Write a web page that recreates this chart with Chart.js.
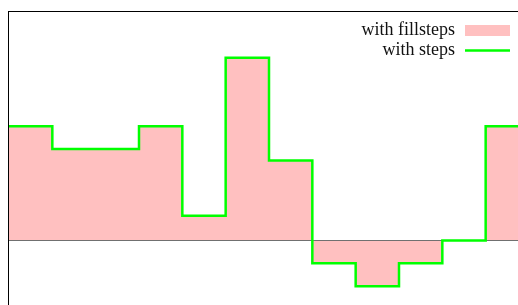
<!DOCTYPE html>
<html>
<head>
<meta charset="utf-8">
<script src="https://cdn.jsdelivr.net/npm/chart.js@4.4.1/dist/chart.umd.min.js"></script>
<style>
  html, body { margin: 0; padding: 0; background: #fff; overflow: hidden; }
  #wrap { width: 540px; height: 320px; }
</style>
</head>
<body>
<div id="wrap"><canvas id="stepChart" width="540" height="320"></canvas></div>
<script>
// data (each value holds until the next x)
const xValues = [0, 1, 2, 3, 4, 5, 6, 7, 8, 9, 10, 11, 12];
const yValues = [5, 4, 4, 5, 1.08, 8, 3.5, -1, -2, -1, 0, 5, 5];
const seriesLabels = ['with fillsteps', 'with steps'];

const pts = xValues.map((x, i) => ({ x: x, y: yValues[i] }));

const fillColor = '#ffc0c0';
const lineColor = '#00ff00';

// frame, zero line and a gnuplot-like key
const framePlugin = {
    id: 'frame',
    afterDatasetDraw(chart, args) {
        if (args.index !== 0) return;
        const { ctx, chartArea, scales } = chart;
        const y0 = Math.round(scales.y.getPixelForValue(0)) + 0.5;
        ctx.save();
        ctx.strokeStyle = '#707070';
        ctx.lineWidth = 1;
        ctx.beginPath();
        ctx.moveTo(chartArea.left, y0);
        ctx.lineTo(chartArea.right, y0);
        ctx.stroke();
        ctx.restore();
    },
    afterDraw(chart) {
        const { ctx, chartArea } = chart;
        ctx.save();
        ctx.strokeStyle = '#000';
        ctx.lineWidth = 1;
        ctx.strokeRect(Math.round(chartArea.left) - 0.5, Math.round(chartArea.top) - 0.5,
            chartArea.right - chartArea.left, chartArea.bottom - chartArea.top);

        // key
        ctx.font = '18px "Liberation Serif", "DejaVu Serif", serif';
        ctx.fillStyle = '#111';
        ctx.textAlign = 'right';
        ctx.textBaseline = 'middle';
        const textX = 455, rowY = [30, 50.5];
        ctx.fillText(chart.data.datasets[0].label, textX, rowY[0]);
        ctx.fillText(chart.data.datasets[1].label, textX, rowY[1]);
        ctx.fillStyle = fillColor;
        ctx.fillRect(465, rowY[0] - 5, 45, 11);
        ctx.strokeStyle = lineColor;
        ctx.lineWidth = 2.5;
        ctx.beginPath();
        ctx.moveTo(465, rowY[1]);
        ctx.lineTo(510, rowY[1]);
        ctx.stroke();
        ctx.restore();
    }
};

const ctx = document.getElementById('stepChart').getContext('2d');
const stepChart = new Chart(ctx, {
    type: 'line',
    data: {
        datasets: [{
            label: seriesLabels[0],
            data: pts,
            stepped: true,
            fill: 'origin',
            backgroundColor: fillColor,
            borderWidth: 0,
            borderColor: 'rgba(0,0,0,0)',
            pointRadius: 0,
            order: 2
        }, {
            label: seriesLabels[1],
            data: pts,
            stepped: true,
            fill: false,
            borderColor: lineColor,
            borderWidth: 2.5,
            pointRadius: 0,
            order: 1
        }]
    },
    options: {
        responsive: false,
        animation: false,
        layout: { padding: { left: 9, top: 12, right: 11, bottom: 11 } },
        plugins: { legend: { display: false }, tooltip: { enabled: false } },
        scales: {
            x: { type: 'linear', min: 0, max: 12, display: false },
            y: { type: 'linear', min: -3, max: 10, display: false }
        }
    },
    plugins: [framePlugin]
});
</script>
</body>
</html>
